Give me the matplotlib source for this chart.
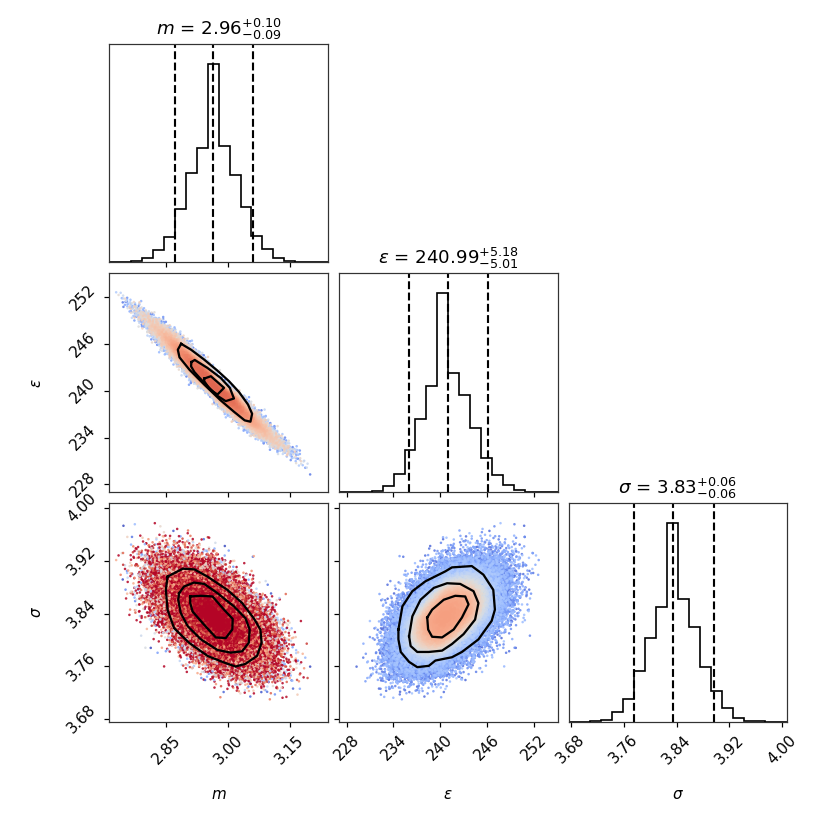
"""
Corner plot de la posterior (m, epsilon, sigma)
Histogramas 1D leídos de la figura, contornos 2D trazados a mano y
nube de muestras reconstruida a partir de esos histogramas.
"""
import math

import matplotlib
matplotlib.use("Agg")
import matplotlib.pyplot as plt
import numpy as np

# ---------------------------------------------------------------------------
# Datos
# ---------------------------------------------------------------------------
etiquetas = [r"$m$", r"$\epsilon$", r"$\sigma$"]
rangos = [(2.712, 3.242), (227.0, 255.1), (3.6765, 4.0075)]
marcas = [
    [2.85, 3.00, 3.15],
    [228, 234, 240, 246, 252],
    [3.68, 3.76, 3.84, 3.92, 4.00],
]
textos_marcas = [
    ["2.85", "3.00", "3.15"],
    ["228", "234", "240", "246", "252"],
    ["3.68", "3.76", "3.84", "3.92", "4.00"],
]

# Alturas de las 20 barras de cada histograma (unidades relativas)
hist_m = [0, 1, 4, 13, 37, 77, 160, 267, 342, 595,
          347, 262, 165, 79, 40, 13, 3, 1, 0, 0]
hist_eps = [0, 0, 0.5, 2, 19, 53, 125, 218, 315, 590,
            352, 288, 190, 102, 50, 20, 5, 1, 0, 0]
hist_sigma = [0, 0, 0.5, 5, 28, 68, 150, 250, 342, 593,
              365, 283, 163, 92, 40, 10, 3, 0.5, 0, 0]

# Cuantiles 16 / 50 / 84 %
cuant_m = [2.870, 2.963, 3.060]
cuant_eps = [235.98, 240.99, 246.17]
cuant_sigma = [3.776, 3.835, 3.896]

titulos = [
    r"$m$ = $2.96_{-0.09}^{+0.10}$",
    r"$\epsilon$ = $240.99_{-5.01}^{+5.18}$",
    r"$\sigma$ = $3.83_{-0.06}^{+0.06}$",
]

# Correlaciones entre parámetros (estimadas de la forma de las nubes)
rho_m_eps = -0.975
rho_m_sigma = -0.55
rho_eps_sigma = 0.48

# Contornos (m, epsilon): exterior, medio, interior
cont_m_eps = [
    ([2.886, 2.910, 2.942, 2.974, 3.002, 3.026, 3.048, 3.058, 3.054, 3.040,
      3.014, 2.982, 2.942, 2.906, 2.882, 2.878],
     [246.05, 245.29, 244.01, 242.60, 241.24, 239.87, 238.25, 237.06, 236.04,
      236.21, 237.32, 238.77, 240.81, 242.73, 244.31, 245.29]),
    ([2.911, 2.919, 2.950, 2.982, 3.004, 3.014, 2.994, 2.974, 2.942, 2.918, 2.910],
     [243.71, 243.97, 242.94, 241.66, 240.39, 239.02, 238.68, 239.36, 241.02,
      242.43, 243.16]),
    ([2.942, 2.958, 2.990, 2.974, 2.956, 2.942],
     [241.58, 241.88, 240.39, 239.53, 240.17, 241.24]),
]

# Contornos (m, sigma)
cont_m_sigma = [
    ([2.853, 2.890, 2.918, 2.950, 2.998, 3.034, 3.062, 3.078, 3.081, 3.070,
      3.042, 3.018, 2.990, 2.950, 2.905, 2.869, 2.853, 2.849],
     [3.896, 3.908, 3.907, 3.896, 3.876, 3.856, 3.833, 3.816, 3.796, 3.776,
      3.764, 3.760, 3.766, 3.776, 3.796, 3.818, 3.846, 3.876]),
    ([2.881, 2.893, 2.917, 2.942, 2.974, 3.014, 3.042, 3.052, 3.050, 3.034,
      3.006, 2.974, 2.934, 2.902, 2.885, 2.879],
     [3.871, 3.881, 3.887, 3.885, 3.871, 3.851, 3.833, 3.816, 3.796, 3.783,
      3.781, 3.785, 3.801, 3.821, 3.841, 3.861]),
    ([2.908, 2.934, 2.962, 2.990, 3.011, 3.010, 2.994, 2.970, 2.942, 2.914, 2.908],
     [3.866, 3.867, 3.866, 3.846, 3.832, 3.816, 3.803, 3.804, 3.823, 3.843, 3.856]),
]

# Contornos (epsilon, sigma)
cont_eps_sigma = [
    ([234.64, 235.15, 236.43, 238.12, 240.67, 241.52, 244.07, 245.56, 246.83,
      247.04, 246.62, 244.92, 242.80, 241.52, 239.39, 238.55, 237.06, 236.01,
      234.94, 234.64],
     [3.816, 3.851, 3.874, 3.889, 3.904, 3.910, 3.912, 3.899, 3.876, 3.846,
      3.829, 3.801, 3.782, 3.774, 3.769, 3.761, 3.759, 3.767, 3.782, 3.801]),
    ([236.01, 236.43, 237.48, 239.19, 240.89, 242.58, 244.29, 244.92, 244.49,
      243.01, 241.52, 240.25, 238.55, 237.06, 236.21],
     [3.806, 3.836, 3.861, 3.879, 3.886, 3.885, 3.874, 3.856, 3.831, 3.809,
      3.794, 3.784, 3.782, 3.782, 3.791]),
    ([238.34, 238.97, 240.46, 241.94, 243.22, 243.65, 242.80, 241.74, 240.25,
      238.97, 238.46],
     [3.834, 3.846, 3.861, 3.867, 3.866, 3.854, 3.834, 3.816, 3.804, 3.805, 3.816]),
]

# ---------------------------------------------------------------------------
# Nube de muestras: secuencia de Halton + cópula gaussiana sobre los
# histogramas leídos (sin números aleatorios)
# ---------------------------------------------------------------------------
N_PUNTOS = 50000

# color de cada panel (escala coolwarm):
#   c = bajo + (alto - bajo) / (1 + exp((radio - r0) / w)) - (s + t * radio) * u**p
# (alto, bajo, r0, w, s, t, p, ordenar_por_color)
color_panel = {
    (1, 0): (0.87, 0.60, 1.6, 0.35, 0.50, 0.0, 1.0, True),
    (2, 0): (1.15, 1.15, 1.0, 1.00, 0.00, 0.32, 1.6, False),
    (2, 1): (0.74, 0.32, 1.45, 0.25, 0.26, 0.0, 1.0, True),
}


def halton(n, base):
    idx = np.arange(1, n + 1)
    f = 1.0
    out = np.zeros(n)
    while idx.max() > 0:
        f /= base
        out += f * (idx % base)
        idx = idx // base
    return out


def cuantil_hist(u, cuentas, lo, hi):
    """Inversa de la CDF de una densidad lineal entre centros de barra."""
    cuentas = np.asarray(cuentas, dtype=float)
    ancho = (hi - lo) / len(cuentas)
    centros = lo + ancho * (np.arange(len(cuentas)) + 0.5)
    xs = np.linspace(lo, hi, 4001)
    dens = np.interp(xs, centros, cuentas)
    cdf = np.cumsum(dens) + 1e-12 * np.arange(xs.size)
    cdf = (cdf - cdf[0]) / (cdf[-1] - cdf[0])
    return np.interp(u, cdf, xs)


u1, u2, u3, u4, u5 = (halton(N_PUNTOS, b) for b in (2, 3, 5, 7, 11))
r1 = np.sqrt(-2 * np.log(u1))
r2 = np.sqrt(-2 * np.log(u3))
z = np.vstack([r1 * np.cos(2 * np.pi * u2),
               r1 * np.sin(2 * np.pi * u2),
               r2 * np.cos(2 * np.pi * u4)])

R = np.array([[1.0, rho_m_eps, rho_m_sigma],
              [rho_m_eps, 1.0, rho_eps_sigma],
              [rho_m_sigma, rho_eps_sigma, 1.0]])
zc = np.linalg.cholesky(R) @ z
erf = np.vectorize(math.erf)
uc = 0.5 * (1 + erf(zc / math.sqrt(2)))

hists = [hist_m, hist_eps, hist_sigma]
muestras = [cuantil_hist(uc[i], hists[i], *rangos[i]) for i in range(3)]
cuantiles = [cuant_m, cuant_eps, cuant_sigma]
contornos = {(1, 0): cont_m_eps, (2, 0): cont_m_sigma, (2, 1): cont_eps_sigma}

# ---------------------------------------------------------------------------
# Figura
# ---------------------------------------------------------------------------
K = 3
lb, tr, lado, hueco = 1.0, 0.4, 2.0, 0.1
dim = lb + tr + K * lado + (K - 1) * hueco
fig = plt.figure(figsize=(dim, dim), dpi=831 / dim)

TICK_FS = 10
for fila in range(K):
    for col in range(fila + 1):
        left = (lb + col * (lado + hueco)) / dim
        bottom = (dim - tr - lado - fila * (lado + hueco)) / dim
        ax = fig.add_axes([left, bottom, lado / dim, lado / dim])
        for sp in ax.spines.values():
            sp.set_linewidth(0.8)
            sp.set_color("#333333")

        if fila == col:
            lo, hi = rangos[col]
            bordes = np.linspace(lo, hi, 21)
            ax.stairs(hists[col], bordes, color="k", linewidth=1.1)
            for q in cuantiles[col]:
                ax.axvline(q, ls="dashed", color="k", linewidth=1.4)
            ax.set_xlim(lo, hi)
            ax.set_ylim(0, 1.1 * max(hists[col]))
            ax.set_yticks([])
            ax.set_title(titulos[col], fontsize=12)
        else:
            x = muestras[col]
            y = muestras[fila]
            rho = R[fila, col]
            zx, zy = zc[col], zc[fila]
            radio = np.sqrt((zx ** 2 - 2 * rho * zx * zy + zy ** 2) / (1 - rho ** 2))
            alto, bajo, r0, w, s, t, p, ordenar = color_panel[(fila, col)]
            c = (bajo + (alto - bajo) / (1 + np.exp((radio - r0) / w))
                 - (s + t * radio) * u5 ** p)
            c = np.clip(c, 0, 1)
            orden = np.argsort(c) if ordenar else np.arange(c.size)
            ax.scatter(x[orden], y[orden], c=c[orden], cmap="coolwarm",
                       vmin=0, vmax=1, s=2.8, linewidths=0, alpha=0.85)
            for cx, cy in contornos[(fila, col)]:
                ax.plot(cx + cx[:1], cy + cy[:1], color="k", linewidth=1.5)
            ax.set_xlim(*rangos[col])
            ax.set_ylim(*rangos[fila])
            ax.set_yticks(marcas[fila])
            if col == 0:
                ax.set_yticklabels(textos_marcas[fila], rotation=45,
                                   fontsize=TICK_FS, va="center")
                ax.set_ylabel(etiquetas[fila], fontsize=TICK_FS)
                ax.yaxis.set_label_coords(-0.3, 0.5)
            else:
                ax.set_yticklabels([])

        ax.set_xticks(marcas[col])
        if fila == K - 1:
            ax.set_xticklabels(textos_marcas[col], rotation=45, fontsize=TICK_FS)
            ax.set_xlabel(etiquetas[col], fontsize=TICK_FS)
            ax.xaxis.set_label_coords(0.5, -0.3)
        else:
            ax.set_xticklabels([])

fig.savefig("out.png", dpi=831 / dim)
